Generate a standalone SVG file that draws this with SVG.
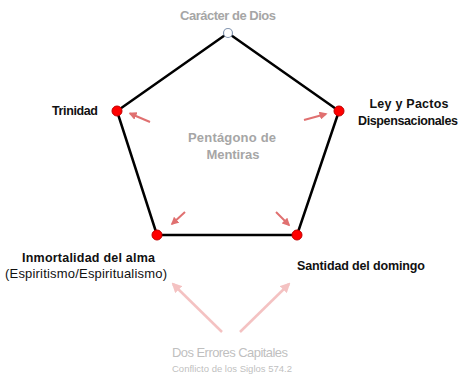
<svg xmlns="http://www.w3.org/2000/svg" width="460" height="374" viewBox="0 0 460 374">
<style>
text{font-family:"Liberation Sans",Arial,sans-serif;}
.b{font-weight:bold;font-size:12.5px;fill:#111;}
.g{font-weight:bold;font-size:13px;fill:#a6a6a6;}
.edge{stroke:#000;stroke-width:2.5;fill:none;stroke-linecap:round;}
.ar{stroke:#e07070;stroke-width:2;fill:none;}
.ar2{stroke:#f4c2c2;stroke-width:2.5;fill:none;}
.dot{fill:#ff0000;stroke:#c00000;stroke-width:1;}
</style>
<defs>
<marker id="h1" viewBox="0 0 10 10" refX="8" refY="5" markerWidth="4" markerHeight="4" orient="auto" markerUnits="strokeWidth"><path d="M0,0 L10,5 L0,10 z" fill="#e07070"/></marker>
<marker id="h2" viewBox="0 0 10 10" refX="8" refY="5" markerWidth="4" markerHeight="4" orient="auto" markerUnits="strokeWidth"><path d="M0,0 L10,5 L0,10 z" fill="#f4c2c2"/></marker>
</defs>
<rect width="460" height="374" fill="#fff"/>
<g id="connectors">
<polygon class="edge" points="228,33 339,111 297,235 157,235 117,111" stroke-linejoin="round"/>
<line class="ar" x1="150" y1="122" x2="130" y2="113.5" marker-end="url(#h1)"/>
<line class="ar" x1="304" y1="120" x2="326" y2="114" marker-end="url(#h1)"/>
<line class="ar" x1="185" y1="212" x2="172" y2="224" marker-end="url(#h1)"/>
<line class="ar" x1="276" y1="212" x2="289" y2="225" marker-end="url(#h1)"/>
<line class="ar2" x1="222" y1="332" x2="173" y2="284" marker-end="url(#h2)"/>
<line class="ar2" x1="240" y1="332" x2="289" y2="284" marker-end="url(#h2)"/>
</g>
<g id="caracter">
<circle cx="228" cy="33" r="4.5" fill="#fff" stroke="#8496b0" stroke-width="1.2"/>
<text class="g" x="228" y="20" text-anchor="middle" textLength="96">Carácter de Dios</text>
</g>
<g id="trinidad">
<circle class="dot" cx="117" cy="111" r="5"/>
<text class="b" x="52" y="115" textLength="46">Trinidad</text>
</g>
<g id="ley">
<circle class="dot" cx="339" cy="111" r="5"/>
<text class="b" x="409" y="108" text-anchor="middle" textLength="79">Ley y Pactos</text>
<text class="b" x="408" y="125" text-anchor="middle" textLength="100">Dispensacionales</text>
</g>
<g id="inmortalidad">
<circle class="dot" cx="157" cy="235" r="5"/>
<text class="b" x="22" y="262" textLength="133">Inmortalidad del alma</text>
<text x="5" y="278" font-size="13" fill="#111" textLength="162">(Espiritismo/Espiritualismo)</text>
</g>
<g id="santidad">
<circle class="dot" cx="297" cy="235" r="5"/>
<text class="b" x="297" y="270" textLength="128">Santidad del domingo</text>
</g>
<g id="pentagono">
<text class="g" x="232" y="142" text-anchor="middle" font-size="14" textLength="88">Pentágono de</text>
<text class="g" x="233" y="159" text-anchor="middle" font-size="14" textLength="53">Mentiras</text>
</g>
<g id="errores">
<text x="230" y="357" text-anchor="middle" font-size="13" fill="#bfbfbf" textLength="116">Dos Errores Capitales</text>
<text x="232" y="372" text-anchor="middle" font-size="9.5" fill="#bfbfbf" textLength="120">Conflicto de los Siglos 574.2</text>
</g>
</svg>
